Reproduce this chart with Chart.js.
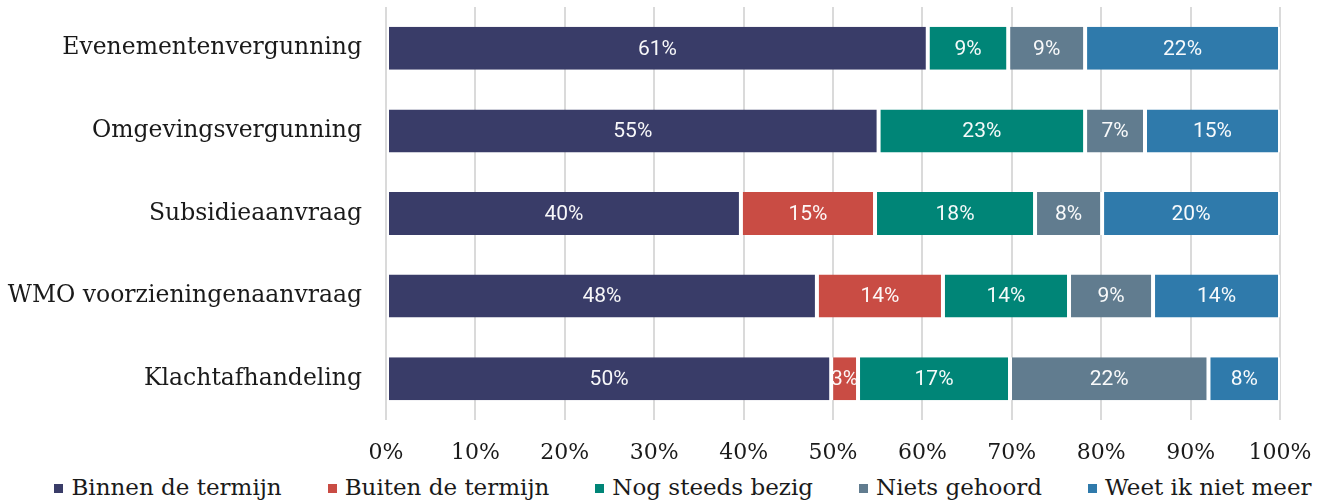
<!DOCTYPE html>
<html lang="nl">
<head>
<meta charset="utf-8">
<title>Afhandeling aanvragen</title>
<script src="https://cdn.jsdelivr.net/npm/chart.js@4/dist/chart.umd.min.js"></script>
<style>
    html, body { margin: 0; padding: 0; background: #fff; }
    #wrap { width: 1334px; height: 504px; position: relative; }
    #chartBox { width: 1334px; height: 470px; position: relative; }
    #legend {
        display: flex;
        justify-content: center;
        gap: 46px;
        height: 34px;
        line-height: 34px;
        padding-left: 32px;
        font-family: 'DejaVu Serif', serif;
        font-size: 23px;
        color: #1a1a1a;
        white-space: nowrap;
    }
    #legend .item { display: flex; align-items: center; }
    #legend .box { width: 9px; height: 9px; margin-right: 8px; margin-top: 3px; }
</style>
</head>
<body>
<div id="wrap">
    <div id="chartBox"><canvas id="statusChart"></canvas></div>
    <div id="legend"></div>
</div>
<script>
// Categorieën en percentages per status
const categories = ['Evenementenvergunning', 'Omgevingsvergunning', 'Subsidieaanvraag', 'WMO voorzieningenaanvraag', 'Klachtafhandeling'];
const binnenTermijn = [60.6, 55.1, 39.7, 48.2, 49.8];
const buitenTermijn = [0, 0, 15.0, 14.1, 3.0];
const nogBezig = [9.0, 23.1, 17.9, 14.1, 17.0];
const nietsGehoord = [8.6, 6.7, 7.5, 9.4, 22.2];
const weetNietMeer = [21.8, 15.1, 19.9, 14.2, 8.0];
const seriesNames = ['Binnen de termijn', 'Buiten de termijn', 'Nog steeds bezig', 'Niets gehoord', 'Weet ik niet meer'];
const xTicks = [0, 10, 20, 30, 40, 50, 60, 70, 80, 90, 100];

const colors = ['#393c68', '#c94c44', '#008577', '#617c8f', '#2f7aab'];
const serif = "'DejaVu Serif', serif";

// percentages in de balken, afgekapt op de rand van het segment
const barLabels = {
    id: 'barLabels',
    afterDatasetsDraw(chart) {
        const ctx = chart.ctx;
        ctx.save();
        ctx.font = '21px Roboto, sans-serif';
        ctx.fillStyle = 'rgba(255,255,255,0.96)';
        ctx.textAlign = 'center';
        ctx.textBaseline = 'middle';
        chart.data.datasets.forEach((ds, i) => {
            const meta = chart.getDatasetMeta(i);
            meta.data.forEach((bar, j) => {
                const v = ds.data[j];
                if (!v) return;
                const left = Math.min(bar.x, bar.base);
                const w = Math.abs(bar.x - bar.base);
                ctx.save();
                ctx.beginPath();
                ctx.rect(left, bar.y - bar.height / 2, w, bar.height);
                ctx.clip();
                ctx.fillText(Math.round(v) + '%', left + w / 2, bar.y + 1);
                ctx.restore();
            });
        });
        ctx.restore();
    }
};

const seriesData = [binnenTermijn, buitenTermijn, nogBezig, nietsGehoord, weetNietMeer];

const chart = new Chart(document.getElementById('statusChart'), {
    type: 'bar',
    data: {
        labels: categories,
        datasets: seriesNames.map((name, i) => ({
            label: name,
            data: seriesData[i],
            backgroundColor: colors[i],
            borderColor: '#ffffff',
            borderWidth: { left: 2, right: 2, top: 0, bottom: 0 },
            borderSkipped: false,
            barPercentage: 0.52,
            categoryPercentage: 1
        }))
    },
    options: {
        indexAxis: 'y',
        responsive: true,
        maintainAspectRatio: false,
        animation: false,
        layout: { padding: { top: 7, right: 54, left: 0, bottom: 0 } },
        scales: {
            x: {
                stacked: true,
                min: 0,
                max: 100,
                afterBuildTicks: s => { s.ticks = xTicks.map(v => ({ value: v })); },
                afterFit: s => { s.height = 50; },
                grid: { color: '#dadada', lineWidth: 2, drawTicks: false },
                border: { display: false },
                ticks: {
                    padding: 20,
                    color: '#1a1a1a',
                    font: { family: serif, size: 22 },
                    callback: v => v + '%'
                }
            },
            y: {
                stacked: true,
                // vaste breedte en geen extra ruimte boven/onder de labels
                afterFit: s => { s.width = 386; s.paddingTop = 0; s.paddingBottom = 0; },
                grid: { display: false, drawTicks: false },
                border: { display: false },
                ticks: {
                    padding: 24,
                    color: '#1a1a1a',
                    font: { family: serif, size: 23.5 }
                }
            }
        },
        plugins: {
            legend: { display: false },
            tooltip: { enabled: false }
        }
    },
    plugins: [barLabels]
});

// legenda onder de grafiek
const legendEl = document.getElementById('legend');
chart.data.datasets.forEach(ds => {
    const item = document.createElement('div');
    item.className = 'item';
    const box = document.createElement('span');
    box.className = 'box';
    box.style.background = ds.backgroundColor;
    const txt = document.createElement('span');
    txt.textContent = ds.label;
    item.appendChild(box);
    item.appendChild(txt);
    legendEl.appendChild(item);
});
</script>
</body>
</html>
